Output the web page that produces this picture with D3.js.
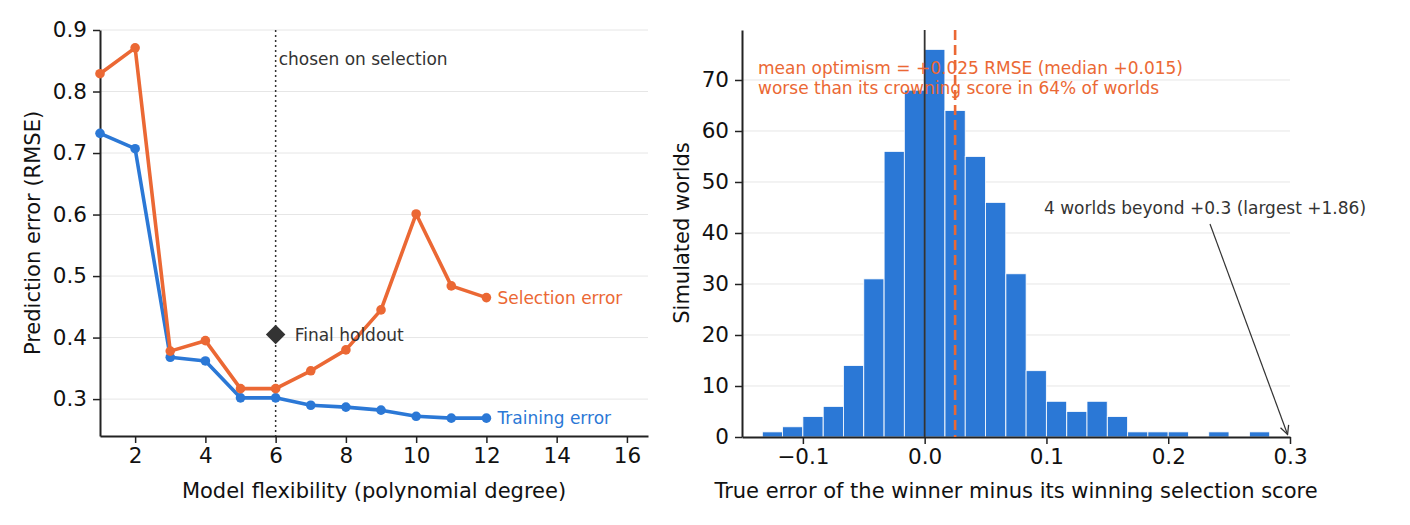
<!DOCTYPE html>
<html>
<head>
<meta charset="utf-8">
<script src="https://cdn.jsdelivr.net/npm/d3@7"></script>
<style>
  body { margin: 0; background: #fff; }
  svg { font-family: "DejaVu Sans", sans-serif; }
  .grid line { stroke: #e6e6e6; stroke-width: 1; }
  .axis path { stroke: #222; stroke-width: 2; }
  .axis line { stroke: #222; stroke-width: 1.5; }
  .axis text { font-family: "DejaVu Sans", sans-serif; font-size: 21.5px; fill: #111; }
</style>
</head>
<body>
<svg id="chart" width="1410" height="525"></svg>
<script>
// left panel: error vs polynomial degree
var degrees = [1, 2, 3, 4, 5, 6, 7, 8, 9, 10, 11, 12];
var trainingErr = [0.732, 0.707, 0.368, 0.362, 0.302, 0.302, 0.290, 0.287, 0.282, 0.272, 0.269, 0.269];
var selectionErr = [0.829, 0.871, 0.378, 0.395, 0.317, 0.317, 0.346, 0.380, 0.445, 0.601, 0.484, 0.465];
var chosenDegree = 6;
var holdoutErr = 0.405;
var leftXTicks = [2, 4, 6, 8, 10, 12, 14, 16];
var leftYTicks = [0.3, 0.4, 0.5, 0.6, 0.7, 0.8, 0.9];

// right panel: histogram of optimism
var binEdges = [-0.1333, -0.1167, -0.1, -0.0833, -0.0667, -0.05, -0.0333, -0.0167, 0.0,
                0.0167, 0.0333, 0.05, 0.0667, 0.0833, 0.1, 0.1167, 0.1333, 0.15, 0.1667,
                0.1833, 0.2, 0.2167, 0.2333, 0.25, 0.2667, 0.2833];
var binCounts = [1, 2, 4, 6, 14, 31, 56, 68, 76, 64, 55, 46, 32, 13, 7, 5, 7, 4, 1, 1, 1, 0, 1, 0, 1];
var meanOptimism = 0.025;
var rightXTicks = [-0.1, 0.0, 0.1, 0.2, 0.3];
var rightYTicks = [0, 10, 20, 30, 40, 50, 60, 70];

var orange = "#eb6834", blue = "#2b78d6", dark = "#333";
var svg = d3.select("#chart");

// ---------- left ----------
var xL = d3.scaleLinear().domain([1, 16.6]).range([100, 648]);
var yL = d3.scaleLinear().domain([0.24, 0.9]).range([436, 30]);

var gL = svg.append("g");
gL.append("g").attr("class", "grid")
    .selectAll("line").data(leftYTicks).join("line")
    .attr("x1", 100).attr("x2", 648)
    .attr("y1", d => yL(d)).attr("y2", d => yL(d));

gL.append("g").attr("class", "axis").attr("transform", "translate(0,436)")
    .call(d3.axisBottom(xL).tickValues(leftXTicks).tickSize(7).tickPadding(5).tickSizeOuter(0));
gL.append("g").attr("class", "axis").attr("transform", "translate(100,0)")
    .call(d3.axisLeft(yL).tickValues(leftYTicks).tickFormat(d3.format(".1f")).tickSize(7).tickPadding(6).tickSizeOuter(0));

gL.append("line")
    .attr("x1", xL(chosenDegree)).attr("x2", xL(chosenDegree))
    .attr("y1", 30).attr("y2", 436)
    .attr("stroke", dark).attr("stroke-width", 1.5).attr("stroke-dasharray", "2,3");
gL.append("text").attr("x", xL(chosenDegree) + 3).attr("y", 65)
    .attr("font-size", 17).attr("fill", dark).text("chosen on selection");

var line = d3.line().x((d, i) => xL(degrees[i])).y(d => yL(d));
[[trainingErr, blue], [selectionErr, orange]].forEach(function (s) {
    gL.append("path").datum(s[0]).attr("d", line)
        .attr("fill", "none").attr("stroke", s[1]).attr("stroke-width", 3.6)
        .attr("stroke-linejoin", "round");
    gL.append("g").selectAll("circle").data(s[0]).join("circle")
        .attr("cx", (d, i) => xL(degrees[i])).attr("cy", d => yL(d))
        .attr("r", 4.8).attr("fill", s[1]);
});

gL.append("path")
    .attr("d", d3.symbol().type(d3.symbolSquare).size(190))
    .attr("transform", "translate(" + xL(chosenDegree) + "," + yL(holdoutErr) + ") rotate(45)")
    .attr("fill", dark);
gL.append("text").attr("x", xL(chosenDegree) + 19).attr("y", yL(holdoutErr) + 6)
    .attr("font-size", 17).attr("fill", dark).text("Final holdout");
gL.append("text").attr("x", xL(12) + 11).attr("y", yL(selectionErr[11]) + 6)
    .attr("font-size", 17).attr("fill", orange).text("Selection error");
gL.append("text").attr("x", xL(12) + 11).attr("y", yL(trainingErr[11]) + 6)
    .attr("font-size", 17).attr("fill", blue).text("Training error");

gL.append("text").attr("x", 374).attr("y", 498).attr("text-anchor", "middle")
    .attr("font-size", 21).attr("fill", "#111").text("Model flexibility (polynomial degree)");
gL.append("text").attr("transform", "translate(40,233) rotate(-90)").attr("text-anchor", "middle")
    .attr("font-size", 21).attr("fill", "#111").text("Prediction error (RMSE)");

// ---------- right ----------
var xR = d3.scaleLinear().domain([-0.15, 0.3]).range([742, 1290]);
var yR = d3.scaleLinear().domain([0, 79.8]).range([437, 30]);
var binW = binEdges[1] - binEdges[0];

var gR = svg.append("g");
gR.append("g").attr("class", "grid")
    .selectAll("line").data(rightYTicks.slice(1)).join("line")
    .attr("x1", 742).attr("x2", 1290)
    .attr("y1", d => yR(d)).attr("y2", d => yR(d));

gR.append("g").selectAll("rect").data(binCounts).join("rect")
    .attr("x", (d, i) => xR(binEdges[i]))
    .attr("width", (d, i) => xR(binEdges[i] + binW) - xR(binEdges[i]))
    .attr("y", d => yR(d))
    .attr("height", d => yR(0) - yR(d))
    .attr("fill", blue).attr("stroke", "#fff").attr("stroke-width", 0.8);

gR.append("g").attr("class", "axis").attr("transform", "translate(0,437)")
    .call(d3.axisBottom(xR).tickValues(rightXTicks).tickFormat(d3.format(".1f")).tickSize(7).tickPadding(5).tickSizeOuter(0));
gR.append("g").attr("class", "axis").attr("transform", "translate(742,0)")
    .call(d3.axisLeft(yR).tickValues(rightYTicks).tickSize(7).tickPadding(6).tickSizeOuter(0));

gR.append("line").attr("x1", xR(0)).attr("x2", xR(0)).attr("y1", 30).attr("y2", 437)
    .attr("stroke", dark).attr("stroke-width", 1.8);

gR.append("text").attr("x", 758).attr("y", 74).attr("font-size", 17).attr("fill", orange)
    .text("mean optimism = +0.025 RMSE (median +0.015)");
gR.append("text").attr("x", 758).attr("y", 94).attr("font-size", 17).attr("fill", orange)
    .text("worse than its crowning score in 64% of worlds");

gR.append("line").attr("x1", xR(meanOptimism)).attr("x2", xR(meanOptimism))
    .attr("y1", 30).attr("y2", 437)
    .attr("stroke", orange).attr("stroke-width", 2.6).attr("stroke-dasharray", "10,5");

gR.append("text").attr("x", 1044).attr("y", 214).attr("font-size", 17).attr("fill", dark)
    .text("4 worlds beyond +0.3 (largest +1.86)");
svg.append("defs").append("marker").attr("id", "arr")
    .attr("viewBox", "0 0 10 10").attr("refX", 9).attr("refY", 5)
    .attr("markerWidth", 9).attr("markerHeight", 9).attr("orient", "auto")
    .append("path").attr("d", "M1,1 L9,5 L1,9").attr("fill", "none").attr("stroke", dark).attr("stroke-width", 1.2);
gR.append("line").attr("x1", 1210).attr("y1", 224).attr("x2", xR(0.298)).attr("y2", yR(0.5))
    .attr("stroke", dark).attr("stroke-width", 1.2).attr("marker-end", "url(#arr)");

gR.append("text").attr("x", 1016).attr("y", 498).attr("text-anchor", "middle")
    .attr("font-size", 21).attr("fill", "#111").text("True error of the winner minus its winning selection score");
gR.append("text").attr("transform", "translate(689,233) rotate(-90)").attr("text-anchor", "middle")
    .attr("font-size", 21).attr("fill", "#111").text("Simulated worlds");
</script>
</body>
</html>
